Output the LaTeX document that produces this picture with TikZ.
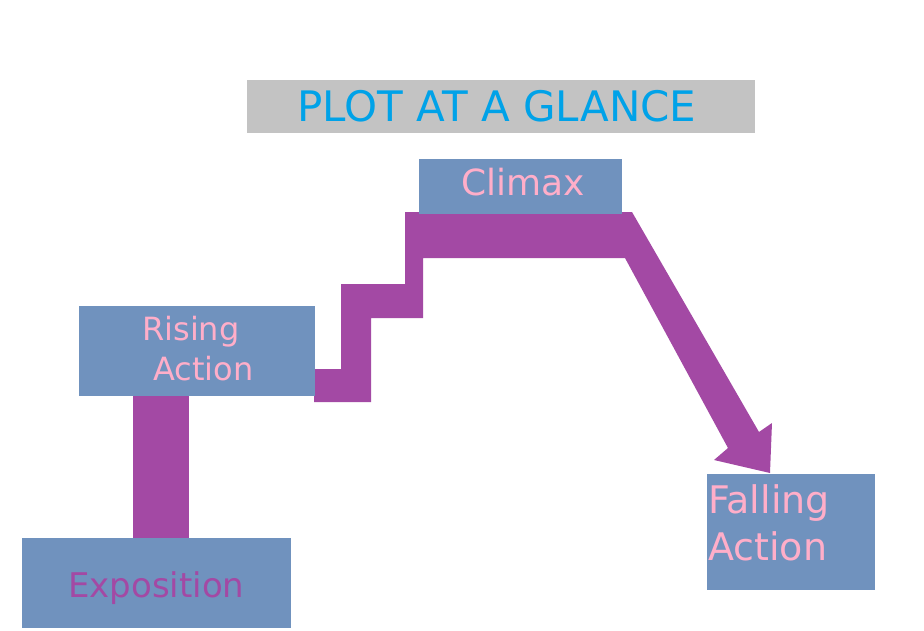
\documentclass[tikz,border=0pt]{standalone}
\usepackage{fontspec}
\setmainfont{DejaVu Sans}
\definecolor{bx}{HTML}{7092BE}
\definecolor{pu}{HTML}{A349A4}
\definecolor{pk}{HTML}{FFAEC9}
\definecolor{cy}{HTML}{00A2E8}
\definecolor{gr}{HTML}{C3C3C3}
\begin{document}
\begin{tikzpicture}[x=1pt,y=-1pt,
  box/.style={fill=bx,draw=none,inner sep=0},
  lbl/.style={text=pk,inner sep=0,align=center}]
\useasboundingbox[fill=white] (0,0) rectangle (924,630);
\fill[pu] (314,369) -- (341,369) -- (341,284) -- (405,284) -- (405,212) -- (632,212)
  -- (759,432) -- (772,423) -- (770,473) -- (714,460) -- (728,448) -- (625,258)
  -- (423,258) -- (423,318) -- (371,318) -- (371,402) -- (314,402) -- cycle;
\fill[pu] (133,394) rectangle (189,541);
\node[box,minimum width=508,minimum height=53,fill=gr] (title) at (501,106.5) {};
\node[text=cy,inner sep=0,font=\fontsize{42}{50}\selectfont] (tt) at (497,106) {PLOT AT A GLANCE};
\node[box,minimum width=203,minimum height=55] (climax) at (520.5,186.5) {};
\node[lbl,font=\fontsize{36}{40}\selectfont] (ct) at (523,182) {Climax};
\node[box,minimum width=236,minimum height=90] (rising) at (197,351) {};
\node[lbl,font=\fontsize{32}{40}\selectfont,anchor=base west] (r1) at (142,340) {Rising};
\node[lbl,font=\fontsize{32}{40}\selectfont,anchor=base west] (r2) at (153,380) {Action};
\node[box,minimum width=269,minimum height=90] (expo) at (156.5,583) {};
\node[text=pu,inner sep=0,font=\fontsize{34}{40}\selectfont,anchor=base west] (et) at (68,597) {Exposition};
\node[box,minimum width=168,minimum height=116] (fall) at (791,532) {};
\node[lbl,font=\fontsize{38}{46}\selectfont,anchor=base west] (f1) at (708,513) {Falling};
\node[lbl,font=\fontsize{38}{46}\selectfont,anchor=base west] (f2) at (708,560) {Action};
\end{tikzpicture}
\end{document}
